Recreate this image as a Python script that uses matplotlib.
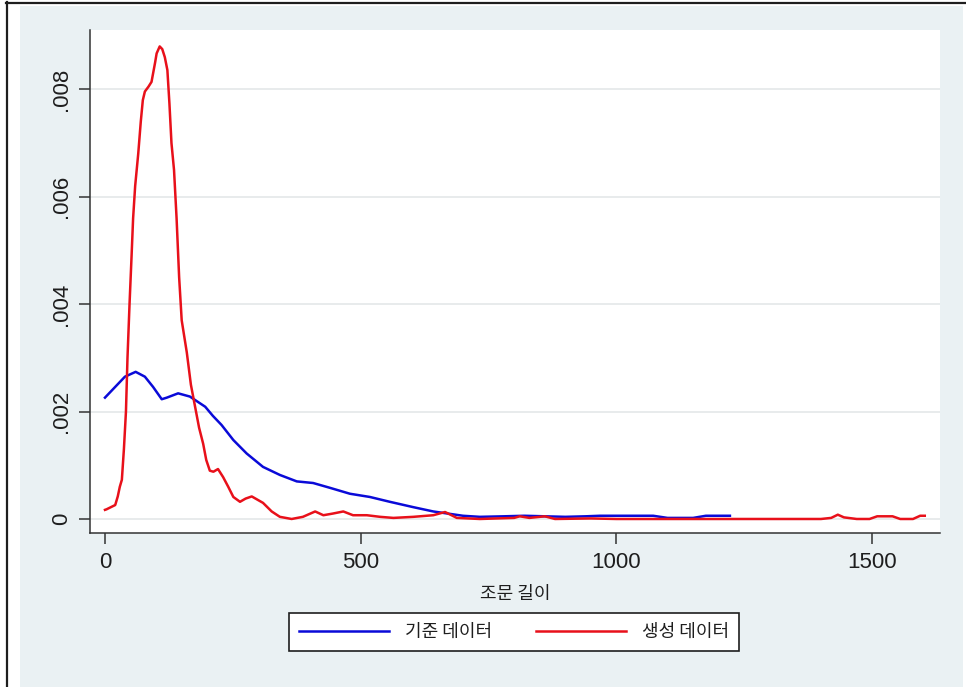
import matplotlib
matplotlib.use("Agg")
import matplotlib.pyplot as plt
from matplotlib.patches import Rectangle
from matplotlib.lines import Line2D

# kernel density of article length: reference data vs generated data
base_x = [0, 20, 39, 60, 78, 94, 111, 121, 143, 166, 196, 211, 228, 251, 277, 309,
          342, 375, 407, 440, 479, 518, 557, 603, 642, 700, 733, 780, 820, 860,
          900, 940, 968, 1020, 1072, 1100, 1150, 1175, 1222]
base_y = [0.00226, 0.00246, 0.00265, 0.00274, 0.00265, 0.00246, 0.00223, 0.00226,
          0.00234, 0.00228, 0.00209, 0.00192, 0.00175, 0.00147, 0.00122, 0.00097,
          0.00082, 0.00070, 0.00067, 0.00058, 0.00047, 0.00041, 0.00032, 0.00022,
          0.00014, 0.00006, 0.00004, 0.00005, 0.00006, 0.00005, 0.00004, 0.00005,
          0.00006, 0.00006, 0.00006, 0.00002, 0.00002, 0.00006, 0.00006]

gen_x = [0, 3, 20, 25, 29, 33, 37, 41, 44, 48, 52, 55, 59, 65, 70, 74, 78, 85, 91,
         98, 101, 107, 112, 117, 122, 126, 130, 135, 140, 145, 150, 155, 160, 168,
         176, 184, 192, 198, 205, 212, 221, 231, 241, 251, 264, 275, 287, 298, 309,
         326, 342, 365, 387, 411, 427, 445, 466, 485, 512, 538, 564, 603, 642, 665,
         688, 733, 800, 811, 830, 860, 880, 950, 1000, 1100, 1200, 1300, 1400, 1420,
         1433, 1445, 1470, 1495, 1510, 1540, 1555, 1580, 1594, 1603]
gen_y = [0.00017, 0.00018, 0.00026, 0.00042, 0.00060, 0.00073, 0.00130, 0.00200,
         0.00300, 0.00400, 0.00490, 0.00560, 0.00620, 0.00680, 0.00740, 0.00780,
         0.00796, 0.00805, 0.00814, 0.00850, 0.00867, 0.00880, 0.00875, 0.00860,
         0.00836, 0.00774, 0.00700, 0.00650, 0.00560, 0.00450, 0.00370, 0.00340,
         0.00310, 0.00250, 0.00210, 0.00170, 0.00140, 0.00110, 0.00090, 0.00088,
         0.00093, 0.00078, 0.00060, 0.00041, 0.00032, 0.00038, 0.00042, 0.00036,
         0.00030, 0.00014, 0.00004, 0.00000, 0.00004, 0.00014, 0.00007, 0.00010,
         0.00014, 0.00007, 0.00007, 0.00004, 0.00002, 0.00004, 0.00007, 0.00013,
         0.00002, 0.00000, 0.00002, 0.00005, 0.00002, 0.00005, 0.00000, 0.00001,
         0.00000, 0.00000, 0.00000, 0.00000, 0.00000, 0.00002, 0.00008, 0.00003,
         0.00000, 0.00000, 0.00005, 0.00005, 0.00000, 0.00000, 0.00006, 0.00006]

labels = ["기준 데이터", "생성 데이터"]
xticks = [0, 500, 1000, 1500]
yticks = [0, 0.002, 0.004, 0.006, 0.008]
ytick_labels = ["0", ".002", ".004", ".006", ".008"]
xlabel = "조문 길이"

num_font = ["Liberation Sans", "DejaVu Sans"]
kr_font = ["Noto Sans CJK KR", "DejaVu Sans"]
bg = "#eaf1f3"
ink = "#1e1e1e"

W, H = 966, 687
fig = plt.figure(figsize=(W / 100, H / 100), dpi=100)
fig.patch.set_facecolor("white")

# graph region background and outer frame
fig.add_artist(Rectangle((20 / W, 0), 943 / W, 681 / H, transform=fig.transFigure,
                         facecolor=bg, edgecolor="none", zorder=-10))
fig.add_artist(Line2D([6 / W, 1], [1 - 2.5 / H, 1 - 2.5 / H], transform=fig.transFigure,
                      color=ink, lw=1.6))
fig.add_artist(Line2D([6.5 / W, 6.5 / W], [0, 1 - 2 / H], transform=fig.transFigure,
                      color=ink, lw=1.6))

ax = fig.add_axes([90 / W, 154 / H, 850 / W, 503 / H])
ax.set_facecolor("white")

ax.plot(base_x, base_y, color="#0a0ad8", lw=1.8, label=labels[0], zorder=3)
ax.plot(gen_x, gen_y, color="#e8101a", lw=1.8, label=labels[1], zorder=4)

ax.set_xlim(-29.3, 1632.8)
ax.set_ylim(-0.000261, 0.009106)

ax.set_xticks(xticks)
ax.set_xticklabels([str(v) for v in xticks], family=num_font, fontsize=16, color=ink)
ax.set_yticks(yticks)
ax.set_yticklabels(ytick_labels, family=num_font, fontsize=16, color=ink,
                   rotation=90, va="center")
ax.tick_params(axis="both", direction="out", length=8, width=1.1, color="#333333")
ax.tick_params(axis="y", pad=5)
ax.tick_params(axis="x", pad=6)

ax.grid(axis="y", color="#e6e9ea", lw=1.3, zorder=0)
ax.set_axisbelow(True)

for side in ["top", "right"]:
    ax.spines[side].set_visible(False)
for side in ["left", "bottom"]:
    ax.spines[side].set_color("#333333")
    ax.spines[side].set_linewidth(1.1)

ax.set_xlabel(xlabel, family=kr_font, fontsize=13, color=ink, labelpad=8)

handles, labs = ax.get_legend_handles_labels()
leg = fig.legend(handles, labs, loc="center", bbox_to_anchor=(514 / W, 1 - 632 / H),
                 ncol=2, frameon=True, fancybox=False, edgecolor=ink,
                 facecolor="white", framealpha=1, handlelength=5.0, handletextpad=0.9,
                 columnspacing=2.4, borderpad=0.55, borderaxespad=0,
                 prop={"family": kr_font, "size": 13})
leg.get_frame().set_linewidth(1.2)
for t in leg.get_texts():
    t.set_color(ink)

plt.savefig("out.png", dpi=100)
